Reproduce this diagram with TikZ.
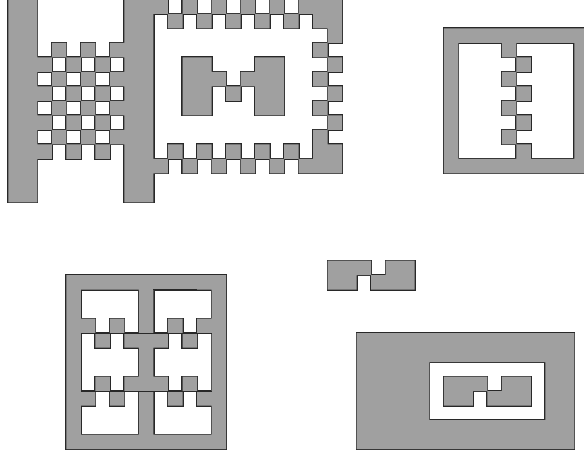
\documentclass[tikz,border=0pt]{standalone}
\definecolor{tilegray}{RGB}{160,160,160}
\definecolor{ink}{RGB}{40,40,40}
\tikzset{
  outlinepass/.style={draw=ink,line width=2pt},
  fillpass/.style={fill=tilegray},
  extraline/.style={draw=ink,line width=1pt}
}
\begin{document}
\begin{tikzpicture}[x=0.5cm,y=-0.5cm]
\def\rects{%
0/-1/2/14, 8/-1/10/14,
3/3/4/4, 5/3/6/4, 7/3/8/4,
2/4/3/5, 4/4/5/5, 6/4/7/5,
3/5/4/6, 5/5/6/6, 7/5/8/6,
2/6/3/7, 4/6/5/7, 6/6/7/7,
3/7/4/8, 5/7/6/8, 7/7/8/8,
2/8/3/9, 4/8/5/9, 6/8/7/9,
3/9/4/10, 5/9/6/10, 7/9/8/10,
2/10/3/11, 4/10/5/11, 6/10/7/11,
10/-1/11/1, 12/-1/13/1, 14/-1/15/1, 16/-1/17/1, 18/-1/19/1, 20/-1/23/1,
11/1/12/2, 13/1/14/2, 15/1/16/2, 17/1/18/2, 19/1/20/2, 21/1/23/2,
22/2/23/3,
21/3/22/4, 22/4/23/5, 21/5/22/6, 22/6/23/7, 21/7/22/8, 22/8/23/9, 21/9/22/10,
21/10/23/11, 11/10/12/11, 13/10/14/11, 15/10/16/11, 17/10/18/11, 19/10/20/11,
10/11/11/12, 12/11/13/12, 14/11/15/12, 16/11/17/12, 18/11/19/12, 20/11/23/12,
12/4/14/8, 14/5/15/6, 15/6/16/7, 16/5/17/6, 17/4/19/8,
30/2/40/3, 30/11/40/12, 30/3/31/11, 39/3/40/11,
34/3/35/4, 35/4/36/5, 34/5/35/6, 35/6/36/7, 34/7/35/8, 35/8/36/9, 34/9/35/10, 35/10/36/11,
4/19/15/20, 4/30/15/31, 4/20/5/30, 14/20/15/30, 9/20/10/30,
5/22/6/23, 7/22/8/23, 11/22/12/23, 13/22/14/23,
6/23/7/24, 8/23/9/24, 10/23/11/24, 12/23/13/24,
6/26/7/27, 8/26/9/27, 10/26/11/27, 12/26/13/27,
5/27/6/28, 7/27/8/28, 11/27/12/28, 13/27/14/28,
22/18/25/19, 26/18/28/19, 22/19/24/20, 25/19/28/20,
24/23/39/25, 24/29/39/31, 24/25/29/29, 37/25/39/29,
30/26/33/27, 34/26/36/27, 30/27/32/28, 33/27/36/28}
\useasboundingbox (-0.574,0.05) rectangle (39.661,31.6);
\clip (-0.574,0.05) rectangle (39.661,31.6);
\path[outlinepass] \foreach \a/\b/\c/\d in \rects {(\a,\b) rectangle (\c,\d)};
\path[fillpass] \foreach \a/\b/\c/\d in \rects {(\a,\b) rectangle (\c,\d)};
\coordinate (l1a) at (5,23);
\coordinate (l1b) at (14,23);
\coordinate (l2a) at (5,27);
\coordinate (l2b) at (14,27);
\coordinate (l3a) at (10,20);
\coordinate (l3b) at (13,20);
\path[extraline] (l1a) -- (l1b);
\path[extraline] (l2a) -- (l2b);
\path[draw=ink,line width=1.6pt] (l3a) -- (l3b);
\end{tikzpicture}
\end{document}
